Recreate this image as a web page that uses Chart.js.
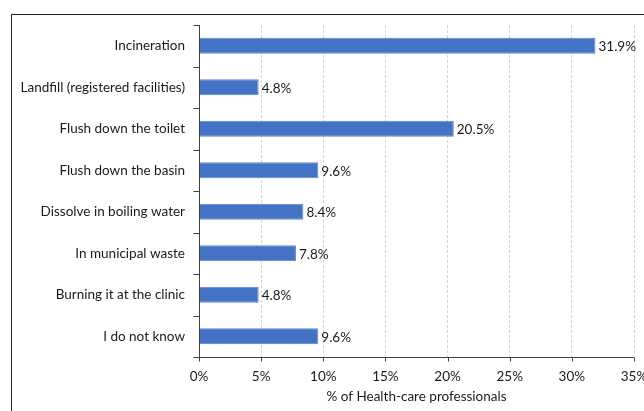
<!DOCTYPE html>
<html>
<head>
<meta charset="utf-8">
<script src="https://cdn.jsdelivr.net/npm/chart.js@4"></script>
<style>
  body { margin: 0; background: #fff; }
  #wrap { position: relative; width: 644px; height: 411px; overflow: hidden; }
  #frame { position: absolute; left: 11px; top: 14px; width: 700px; height: 500px; border: 1px solid #222; }
  #chart { position: absolute; left: 0; top: 0; }
</style>
</head>
<body>
<div id="wrap">
  <div id="frame"></div>
  <canvas id="chart" width="644" height="411"></canvas>
</div>
<script>
'use strict';

const categories = [
    'Incineration',
    'Landfill (registered facilities)',
    'Flush down the toilet',
    'Flush down the basin',
    'Dissolve in boiling water',
    'In municipal waste',
    'Burning it at the clinic',
    'I do not know'
];

const percentValues = [31.9, 4.8, 20.5, 9.6, 8.4, 7.8, 4.8, 9.6];

const xTickValues = [0, 5, 10, 15, 20, 25, 30, 35];

const axisTitle = '% of Health-care professionals';

const textColor = '#1a1a1a';
const axisColor = '#404040';
const labelFont = { family: 'Lato', size: 13.5 };

// axis lines and the little outside tick marks, excel style
const axisTicks = {
    id: 'axisTicks',
    afterDatasetsDraw(chart) {
        const { ctx, chartArea } = chart;
        const x = chart.scales.x;
        const y = chart.scales.y;
        ctx.save();
        ctx.strokeStyle = axisColor;
        ctx.lineWidth = 1;
        ctx.beginPath();
        const left = Math.round(chartArea.left) + 0.5;
        const bottom = Math.round(chartArea.bottom) + 0.5;
        ctx.moveTo(left, chartArea.top);
        ctx.lineTo(left, bottom);
        ctx.lineTo(chartArea.right, bottom);
        for (let i = 0; i <= categories.length; i++) {
            const py = Math.round(y.getPixelForValue(i - 0.5)) + 0.5;
            ctx.moveTo(left - 6, py);
            ctx.lineTo(left, py);
        }
        xTickValues.forEach(v => {
            const px = Math.round(x.getPixelForValue(v)) + 0.5;
            ctx.moveTo(px, bottom);
            ctx.lineTo(px, bottom + 4);
        });
        ctx.stroke();
        ctx.restore();
    }
};

// value labels at the end of each bar
const barLabels = {
    id: 'barLabels',
    afterDatasetsDraw(chart) {
        const { ctx } = chart;
        const meta = chart.getDatasetMeta(0);
        ctx.save();
        ctx.font = labelFont.size + 'px ' + labelFont.family;
        ctx.fillStyle = textColor;
        ctx.textAlign = 'left';
        ctx.textBaseline = 'middle';
        meta.data.forEach((bar, i) => {
            ctx.fillText(percentValues[i].toFixed(1) + '%', bar.x + 3, bar.y + 1);
        });
        ctx.restore();
    }
};

const ctx = document.getElementById('chart').getContext('2d');
const chart = new Chart(ctx, {
    type: 'bar',
    data: {
        labels: categories,
        datasets: [{
            data: percentValues,
            backgroundColor: '#4472C4',
            borderColor: '#5b86d0',
            borderWidth: 1,
            barPercentage: 1,
            categoryPercentage: 0.39
        }]
    },
    options: {
        indexAxis: 'y',
        responsive: false,
        animation: false,
        layout: { padding: { top: 25, right: 10, left: 0, bottom: 0 } },
        plugins: {
            legend: { display: false },
            tooltip: { enabled: false }
        },
        scales: {
            x: {
                min: 0,
                max: 35,
                afterBuildTicks: (scale) => {
                    scale.ticks = xTickValues.map(v => ({ value: v }));
                },
                afterFit: (scale) => {
                    scale.height = 54;
                    scale.paddingLeft = 0;
                    scale.paddingRight = 0;
                },
                grid: {
                    color: '#d4d4d4',
                    drawTicks: false
                },
                border: { display: false, dash: [3, 2] },
                ticks: {
                    padding: 12,
                    color: textColor,
                    font: labelFont,
                    callback: (v) => v + '%'
                },
                title: {
                    display: true,
                    text: axisTitle,
                    color: textColor,
                    font: labelFont,
                    padding: { top: 0, bottom: 6 }
                }
            },
            y: {
                afterFit: (scale) => { scale.width = 199; },
                grid: { display: false },
                border: { display: false },
                ticks: {
                    padding: 6,
                    color: textColor,
                    font: labelFont
                }
            }
        }
    },
    plugins: [axisTicks, barLabels]
});
</script>
</body>
</html>
